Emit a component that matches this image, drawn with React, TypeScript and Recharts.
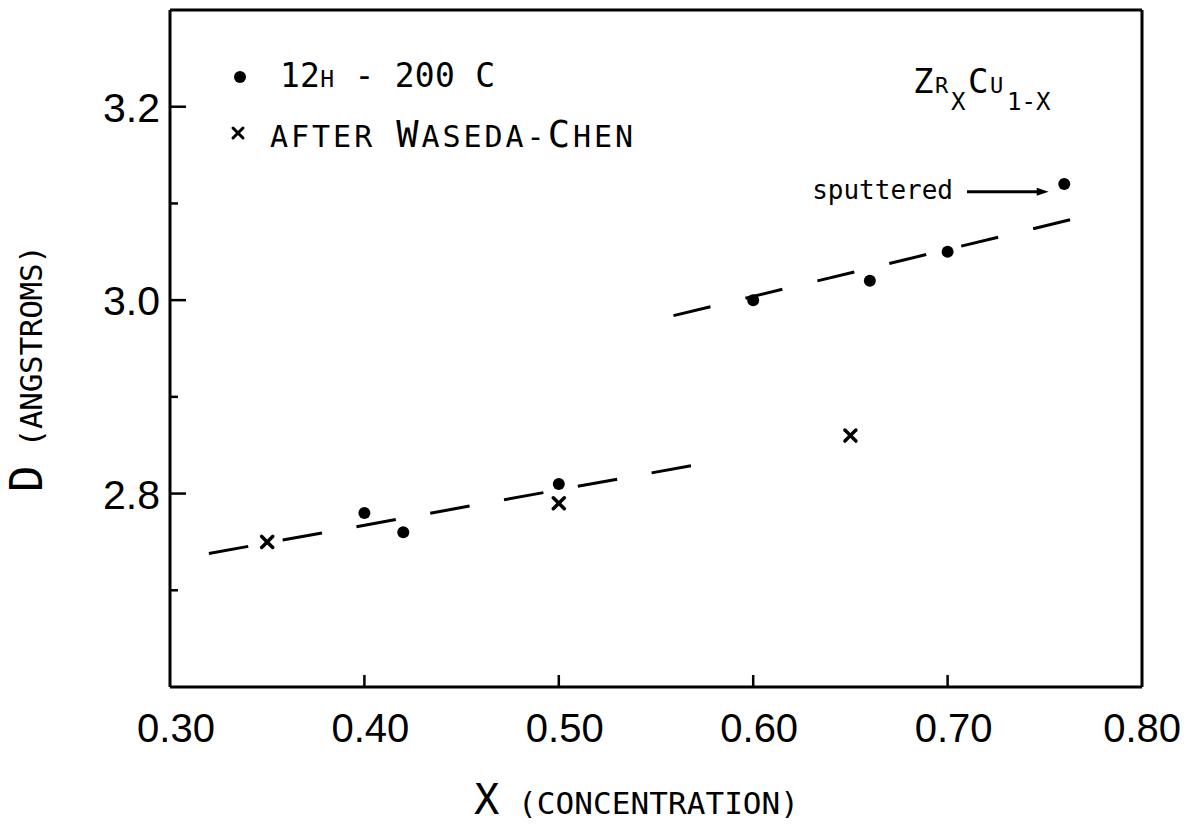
import React from 'react';
import { ScatterChart, Scatter, XAxis, YAxis, ReferenceLine, Customized } from 'recharts';

// ---- data ----
const xTicks = [0.3, 0.4, 0.5, 0.6, 0.7, 0.8];
const xInnerTicks = [0.4, 0.5, 0.6, 0.7];
const yTicks = [2.7, 2.8, 2.9, 3.0, 3.1, 3.2];
const yLabeledTicks = ['2.8', '3.0', '3.2'];

const annealed12h = [
  { x: 0.40, y: 2.78 },
  { x: 0.42, y: 2.76 },
  { x: 0.50, y: 2.81 },
  { x: 0.60, y: 3.00 },
  { x: 0.66, y: 3.02 },
  { x: 0.70, y: 3.05 },
  { x: 0.76, y: 3.12 },
];
const wasedaChen = [
  { x: 0.35, y: 2.75 },
  { x: 0.50, y: 2.79 },
  { x: 0.65, y: 2.86 },
];
const fitLow = [
  { x: 0.32, y: 2.738 },
  { x: 0.574, y: 2.831 },
];
const fitHigh = [
  { x: 0.559, y: 2.984 },
  { x: 0.767, y: 3.085 },
];
const sputteredArrow = [
  { x: 0.71, y: 3.112 },
  { x: 0.752, y: 3.112 },
];

const MONO = 'DejaVu Sans Mono';
const SANS = 'Liberation Sans';

const DotShape = (p: any) => <circle cx={p.cx} cy={p.cy} r={6} fill="#000" />;
const CrossShape = (p: any) => (
  <g stroke="#000" strokeWidth={3.5} strokeLinecap="round">
    <line x1={p.cx - 5.5} y1={p.cy - 5.5} x2={p.cx + 5.5} y2={p.cy + 5.5} />
    <line x1={p.cx - 5.5} y1={p.cy + 5.5} x2={p.cx + 5.5} y2={p.cy - 5.5} />
  </g>
);

const LeftTick = (p: any) => {
  const v = Number(p.payload.value).toFixed(1);
  const labeled = yLabeledTicks.includes(v);
  const len = labeled ? 16 : 8;
  return (
    <g>
      <line x1={p.x} y1={p.y} x2={p.x + len} y2={p.y} stroke="#000" strokeWidth={2.5} />
      {labeled && (
        <text x={p.x - 10} y={p.y + 15} textAnchor="end" fontFamily={SANS} fontSize={41} fill="#000">
          {v}
        </text>
      )}
    </g>
  );
};
const RightTick = (p: any) => {
  const v = Number(p.payload.value).toFixed(1);
  const labeled = yLabeledTicks.includes(v);
  const len = labeled ? 12 : 8;
  return <line x1={p.x} y1={p.y} x2={p.x - len} y2={p.y} stroke="#000" strokeWidth={2.5} />;
};
const BottomTick = (p: any) => {
  const v = Number(p.payload.value);
  const inner = xInnerTicks.some((t) => Math.abs(t - v) < 1e-6);
  const last = v > 0.79;
  return (
    <g>
      {inner && <line x1={p.x} y1={p.y} x2={p.x} y2={p.y - 12} stroke="#000" strokeWidth={2.5} />}
      <text
        x={last ? p.x + 39 : p.x + 6}
        y={p.y + 55}
        textAnchor={last ? 'end' : 'middle'}
        fontFamily={SANS}
        fontSize={40}
        fill="#000"
      >
        {v.toFixed(2)}
      </text>
    </g>
  );
};
const TopTick = (p: any) => (
  <line x1={p.x} y1={p.y} x2={p.x} y2={p.y + 10} stroke="#000" strokeWidth={2.5} />
);

const ArrowShape = (p: any) => (
  <g>
    <text x={p.x1 - 14} y={p.y1 + 7} textAnchor="end" fontFamily={MONO} fontSize={26} fill="#000">
      sputtered
    </text>
    <line x1={p.x1} y1={p.y1} x2={p.x2 - 8} y2={p.y2} stroke="#000" strokeWidth={3} />
    <polygon points={`${p.x2},${p.y2} ${p.x2 - 12},${p.y2 - 4} ${p.x2 - 12},${p.y2 + 4}`} fill="#000" />
  </g>
);

const Decorations = () => (
  <g>
    {/* legend */}
    <circle cx={240} cy={77} r={6} fill="#000" />
    <text x={280} y={87} fontFamily={MONO} fontSize={33} fill="#000" textLength={215} lengthAdjust="spacing">
      12<tspan fontSize={23}>H</tspan> - 200 C
    </text>
    <g stroke="#000" strokeWidth={3} strokeLinecap="round">
      <line x1={233} y1={128} x2={243} y2={138} />
      <line x1={233} y1={138} x2={243} y2={128} />
    </g>
    <text x={270} y={147} fontFamily={MONO} fontSize={30} fill="#000" textLength={363} lengthAdjust="spacing">
      AFTER <tspan fontSize={37}>W</tspan>ASEDA-<tspan fontSize={37}>C</tspan>HEN
    </text>

    {/* title */}
    <g fontFamily={MONO} fill="#000">
      <text x={913} y={93} fontSize={34}>Z</text>
      <text x={935} y={93} fontSize={22}>R</text>
      <text x={951} y={110} fontSize={24}>X</text>
      <text x={968} y={93} fontSize={34}>C</text>
      <text x={990} y={93} fontSize={22}>U</text>
      <text x={1007} y={110} fontSize={24}>1-X</text>
    </g>

    {/* axis titles */}
    <text x={474} y={814} fontFamily={MONO} fontSize={31} fill="#000" textLength={325} lengthAdjust="spacing">
      <tspan fontSize={42}>X</tspan> (CONCENTRATION)
    </text>
    <text
      transform="translate(42,492) rotate(-90)"
      fontFamily={MONO}
      fontSize={31}
      fill="#000"
      textLength={247}
      lengthAdjust="spacing"
    >
      <tspan fontSize={44}>D</tspan> (ANGSTROMS)
    </text>
  </g>
);

export default function App() {
  return (
    <div style={{ position: 'absolute', left: 0, top: 0, width: 1186, height: 834, background: '#fff' }}>
      <ScatterChart width={1186} height={834} margin={{ top: 0, right: 0, bottom: 0, left: 0 }}>
        <XAxis
          xAxisId={0}
          dataKey="x"
          type="number"
          domain={[0.3, 0.8]}
          ticks={xTicks}
          interval={0}
          height={147}
          tickSize={0}
          tickMargin={0}
          tickLine={false}
          tick={<BottomTick />}
          axisLine={{ stroke: '#000', strokeWidth: 3 }}
        />
        <XAxis
          xAxisId="top"
          orientation="top"
          type="number"
          domain={[0.3, 0.8]}
          ticks={xInnerTicks}
          interval={0}
          height={10}
          tickSize={0}
          tickMargin={0}
          tickLine={false}
          tick={<TopTick />}
          axisLine={{ stroke: '#000', strokeWidth: 3 }}
        />
        <YAxis
          yAxisId={0}
          dataKey="y"
          type="number"
          domain={[2.6, 3.3]}
          ticks={yTicks}
          interval={0}
          width={170}
          tickSize={0}
          tickMargin={0}
          tickLine={false}
          tick={<LeftTick />}
          axisLine={{ stroke: '#000', strokeWidth: 3 }}
        />
        <YAxis
          yAxisId="right"
          orientation="right"
          type="number"
          domain={[2.6, 3.3]}
          ticks={yTicks}
          interval={0}
          width={44}
          tickSize={0}
          tickMargin={0}
          tickLine={false}
          tick={<RightTick />}
          axisLine={{ stroke: '#000', strokeWidth: 3 }}
        />
        <ReferenceLine
          segment={fitLow}
          stroke="#000"
          strokeWidth={3}
          strokeDasharray="40 35"
          ifOverflow="visible"
        />
        <ReferenceLine
          segment={fitHigh}
          stroke="#000"
          strokeWidth={3}
          strokeDasharray="38 36"
          ifOverflow="visible"
        />
        <ReferenceLine segment={sputteredArrow} ifOverflow="visible" shape={ArrowShape} />
        <Scatter data={annealed12h} dataKey="y" shape={DotShape} isAnimationActive={false} />
        <Scatter data={wasedaChen} dataKey="y" shape={CrossShape} isAnimationActive={false} />
        <Customized component={Decorations} />
      </ScatterChart>
    </div>
  );
}
